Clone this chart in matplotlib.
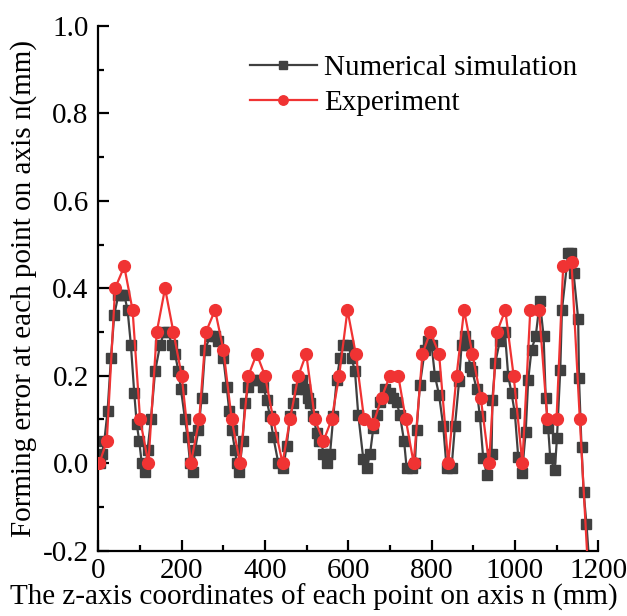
import matplotlib
matplotlib.use("Agg")
import matplotlib.pyplot as plt
from matplotlib.ticker import MultipleLocator

plt.rcParams['font.family'] = ['Liberation Serif', 'DejaVu Serif']

# Numerical simulation (z mm, error mm)
sim_x = [3, 8, 14, 22, 30, 38, 48, 55, 62, 70, 78, 86, 92, 98, 104, 112, 118, 126,
         136, 148, 158, 168, 176, 184, 192, 198, 208, 214, 220, 226, 232, 240, 248,
         256, 268, 280, 288, 300, 308, 314, 320, 328, 332, 338, 346, 352, 360, 372,
         384, 396, 404, 412, 420, 432, 444, 452, 460, 468, 476, 488, 496, 504, 508,
         516, 524, 530, 536, 540, 548, 556, 564, 572, 580, 588, 600, 608, 616, 624,
         636, 644, 652, 660, 668, 676, 688, 700, 708, 716, 724, 734, 740, 752, 760,
         764, 772, 784, 792, 800, 808, 818, 828, 836, 848, 856, 866, 872, 880, 888,
         892, 898, 908, 916, 924, 933, 944, 946, 953, 964, 976, 984, 992, 1000, 1008,
         1017, 1026, 1032, 1040, 1050, 1060, 1069, 1074, 1080, 1085, 1096, 1101, 1109,
         1113, 1128, 1135, 1141, 1152, 1154, 1160, 1165, 1172, 1178]
sim_y = [0.0, 0.02, 0.05, 0.12, 0.24, 0.34, 0.385, 0.385, 0.385, 0.35, 0.27, 0.16, 0.09,
         0.05, 0.0, -0.02, 0.03, 0.10, 0.21, 0.27, 0.30, 0.30, 0.27, 0.25, 0.21, 0.17,
         0.10, 0.06, 0.0, -0.02, 0.03, 0.076, 0.15, 0.26, 0.29, 0.29, 0.28, 0.24,
         0.175, 0.12, 0.076, 0.03, 0.0, -0.02, 0.05, 0.137, 0.175, 0.19, 0.19, 0.175,
         0.145, 0.107, 0.06, 0.0, -0.01, 0.04, 0.107, 0.137, 0.17, 0.19, 0.17, 0.15,
         0.137, 0.107, 0.07, 0.05, 0.05, 0.02, 0.0, 0.02, 0.107, 0.19, 0.24, 0.27,
         0.27, 0.24, 0.21, 0.11, 0.01, -0.01, 0.02, 0.08, 0.11, 0.14, 0.17, 0.16, 0.15,
         0.14, 0.11, 0.05, -0.01, -0.01, 0.0, 0.076, 0.18, 0.26, 0.28, 0.27, 0.2, 0.156,
         0.084, -0.01, -0.01, 0.084, 0.187, 0.27, 0.29, 0.27, 0.22, 0.21, 0.17, 0.107,
         0.011, -0.027, 0.02, 0.145, 0.23, 0.28, 0.30, 0.2, 0.16, 0.114, 0.015, -0.023,
         0.072, 0.19, 0.26, 0.29, 0.37, 0.29, 0.15, 0.08, 0.011, -0.015, 0.057, 0.213,
         0.35, 0.48, 0.48, 0.434, 0.33, 0.194, 0.038, -0.065, -0.14, -0.22]

# Experiment (z mm, error mm)
exp_x = [2, 20, 40, 62, 82, 100, 120, 140, 160, 180, 200, 222, 242, 258, 280, 300, 320,
         340, 360, 380, 400, 420, 442, 460, 480, 499, 520, 540, 560, 578, 598, 618, 638,
         660, 680, 700, 720, 738, 757, 778, 797, 818, 840, 860, 878, 898, 918, 938, 957,
         977, 997, 1018, 1037, 1058, 1078, 1100, 1116, 1136, 1156, 1176]
exp_y = [0.0, 0.05, 0.40, 0.45, 0.35, 0.10, 0.0, 0.30, 0.40, 0.30, 0.20, 0.0, 0.10, 0.30,
         0.35, 0.26, 0.10, 0.0, 0.20, 0.25, 0.20, 0.10, 0.0, 0.10, 0.20, 0.25, 0.10, 0.05,
         0.10, 0.20, 0.35, 0.25, 0.10, 0.09, 0.15, 0.20, 0.20, 0.10, 0.0, 0.25, 0.30, 0.25,
         0.0, 0.20, 0.35, 0.25, 0.15, 0.0, 0.30, 0.35, 0.20, 0.0, 0.35, 0.35, 0.10, 0.10,
         0.45, 0.46, 0.10, -0.25]

fig = plt.figure(figsize=(6.27, 6.16), dpi=100)
ax = fig.add_axes([0.157, 0.106, 0.797, 0.852])

ax.plot(sim_x, sim_y, color='#404040', lw=1.6, marker='s', ms=6.5,
        label='Numerical simulation', zorder=2)
ax.plot(exp_x, exp_y, color='#f03333', lw=1.6, marker='o', ms=8.5,
        label='Experiment', zorder=3)

ax.set_xlim(0, 1200)
ax.set_ylim(-0.2, 1.0)
ax.xaxis.set_major_locator(MultipleLocator(200))
ax.xaxis.set_minor_locator(MultipleLocator(100))
ax.yaxis.set_minor_locator(MultipleLocator(0.1))
ax.set_yticks([-0.2, 0.0, 0.2, 0.4, 0.6, 0.8, 1.0])
ax.set_yticklabels(['-0.2', '0.0', '0.2', '0.4', '0.6', '0.8', '1.0'])

for s in ['top', 'right']:
    ax.spines[s].set_visible(False)
for s in ['left', 'bottom']:
    ax.spines[s].set_linewidth(1.6)

ax.tick_params(axis='both', which='major', direction='in', length=8, width=1.6,
               labelsize=21)
ax.tick_params(axis='x', which='major', pad=5)
ax.tick_params(axis='y', which='major', pad=7)
ax.tick_params(axis='both', which='minor', direction='in', length=4.5, width=1.6)

ax.set_xlabel('The z-axis coordinates of each point on axis n (mm)', fontsize=21)
ax.xaxis.set_label_coords(0.431, -0.062)
ax.set_ylabel('Forming error at each point on axis n(mm)', fontsize=21, labelpad=4)

ax.legend(loc='upper left', bbox_to_anchor=(0.25, 0.995), frameon=False, fontsize=21,
          handlelength=2.3, handletextpad=0.25, labelspacing=0.3, markerscale=0.8)

fig.savefig('out.png', dpi=100)
